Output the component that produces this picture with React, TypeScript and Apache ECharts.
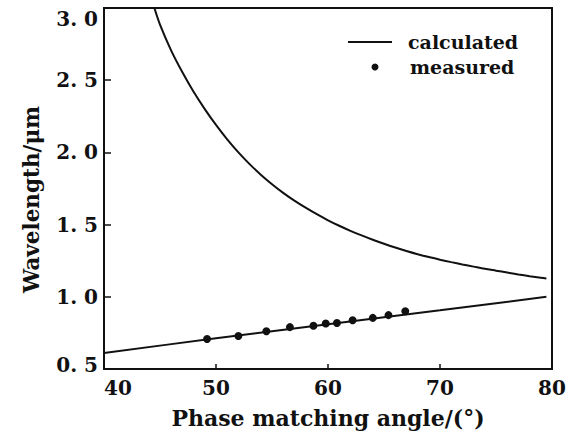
import React, { useEffect, useRef } from "react";
import * as echarts from "echarts";

const xTicks = [40, 50, 60, 70, 80];
const yTicks = [0.5, 1.0, 1.5, 2.0, 2.5, 3.0];

// calculated, upper branch (at 1° steps)
const upperAngle = [44.5, 45, 46, 47, 48, 49, 50, 51, 52, 53, 54, 55, 56, 57, 58, 59, 60, 61, 62, 63, 64, 65, 66, 67, 68, 69, 70, 71, 72, 73, 74, 75, 76, 77, 78, 79, 79.5];
const upperWave = [3.0, 2.885, 2.705, 2.555, 2.42, 2.3, 2.19, 2.09, 2.0, 1.919, 1.846, 1.78, 1.72, 1.666, 1.617, 1.572, 1.53, 1.492, 1.457, 1.425, 1.395, 1.367, 1.341, 1.317, 1.295, 1.275, 1.257, 1.24, 1.224, 1.209, 1.194, 1.181, 1.168, 1.155, 1.143, 1.132, 1.126];

// calculated, lower branch
const lowerAngle = [40, 50, 60, 70, 79.5];
const lowerWave = [0.61, 0.713, 0.81, 0.907, 1.0];

// measured
const measAngle = [49.2, 52.0, 54.5, 56.6, 58.7, 59.8, 60.8, 62.2, 64.0, 65.4, 66.9];
const measWave = [0.708, 0.729, 0.762, 0.79, 0.8, 0.815, 0.818, 0.838, 0.854, 0.873, 0.9];

const legendNames = ["calculated", "measured"];

const zip = (a: number[], b: number[]) => a.map((v, i) => [v, b[i]]);

const FONT = "DejaVu Serif";
const INK = "#111";
const labelBase = { fontFamily: FONT, fontWeight: "bold", fontSize: 20, color: INK };

export default function App() {
  const ref = useRef<HTMLDivElement>(null);
  useEffect(() => {
    if (!ref.current) return;
    const chart = echarts.init(ref.current, undefined, { renderer: "svg" });
    chart.setOption({
      animation: false,
      backgroundColor: "#fff",
      grid: {
        left: 104,
        right: 25,
        top: 8,
        bottom: 67,
        show: true,
        borderColor: INK,
        borderWidth: 2,
        backgroundColor: "transparent",
      },
      graphic: [
        { type: "line", shape: { x1: 348, y1: 42, x2: 392, y2: 42 }, style: { stroke: INK, lineWidth: 2 } },
        {
          type: "text",
          x: 408,
          y: 42,
          style: { text: legendNames[0], fontFamily: FONT, fontWeight: "bold", fontSize: 19, fill: INK, verticalAlign: "middle", align: "left" },
        },
        { type: "circle", shape: { cx: 375, cy: 67, r: 3.5 }, style: { fill: INK } },
        {
          type: "text",
          x: 410,
          y: 67,
          style: { text: legendNames[1], fontFamily: FONT, fontWeight: "bold", fontSize: 19, fill: INK, verticalAlign: "middle", align: "left" },
        },
      ],
      xAxis: {
        type: "value",
        min: 40,
        max: 80,
        interval: 10,
        name: "Phase matching angle/(°)",
        nameLocation: "middle",
        nameGap: 38,
        nameTextStyle: { fontFamily: FONT, fontWeight: "bold", fontSize: 22, color: INK },
        axisLine: { show: true, lineStyle: { color: INK, width: 2 } },
        axisTick: { show: true, inside: true, length: 5, lineStyle: { color: INK, width: 1.5 } },
        axisLabel: {
          ...labelBase,
          margin: 9,
          alignMinLabel: "left",
          formatter: (v: number) => (xTicks.includes(v) ? String(v) : ""),
        },
        splitLine: { show: false },
      },
      yAxis: {
        type: "value",
        min: 0.5,
        max: 3.0,
        interval: 0.5,
        name: "Wavelength/μm",
        nameLocation: "middle",
        nameGap: 62,
        nameTextStyle: { fontFamily: FONT, fontWeight: "bold", fontSize: 21.5, color: INK, padding: [0, 22, 0, 0] },
        axisLine: { show: true, lineStyle: { color: INK, width: 2 } },
        axisTick: { show: true, inside: true, length: 7, lineStyle: { color: INK, width: 1.5 } },
        axisLabel: {
          ...labelBase,
          margin: 6,
          rich: {
            top: { ...labelBase, padding: [22, 0, 0, 0] },
            bot: { ...labelBase, padding: [0, 0, 8, 0] },
            mid: { ...labelBase },
          },
          formatter: (v: number) => {
            const t = yTicks.find((y) => Math.abs(y - v) < 1e-6);
            if (t === undefined) return "";
            const s = t.toFixed(1).replace(".", ". ");
            if (t === yTicks[yTicks.length - 1]) return `{top|${s}}`;
            if (t === yTicks[0]) return `{bot|${s}}`;
            return `{mid|${s}}`;
          },
        },
        splitLine: { show: false },
      },
      series: [
        {
          name: "calculated",
          type: "line",
          data: zip(upperAngle, upperWave),
          smooth: 0.3,
          showSymbol: false,
          symbol: "none",
          lineStyle: { color: INK, width: 2 },
          itemStyle: { color: INK },
        },
        {
          name: "calculated",
          type: "line",
          data: zip(lowerAngle, lowerWave),
          smooth: 0.3,
          showSymbol: false,
          symbol: "none",
          lineStyle: { color: INK, width: 2 },
          itemStyle: { color: INK },
        },
        {
          name: "measured",
          type: "scatter",
          data: zip(measAngle, measWave),
          symbol: "circle",
          symbolSize: 8,
          itemStyle: { color: INK, opacity: 1 },
        },
      ],
    });
    return () => chart.dispose();
  }, []);
  return <div ref={ref} style={{ width: 577, height: 436, position: "absolute", left: 0, top: 0 }} />;
}
